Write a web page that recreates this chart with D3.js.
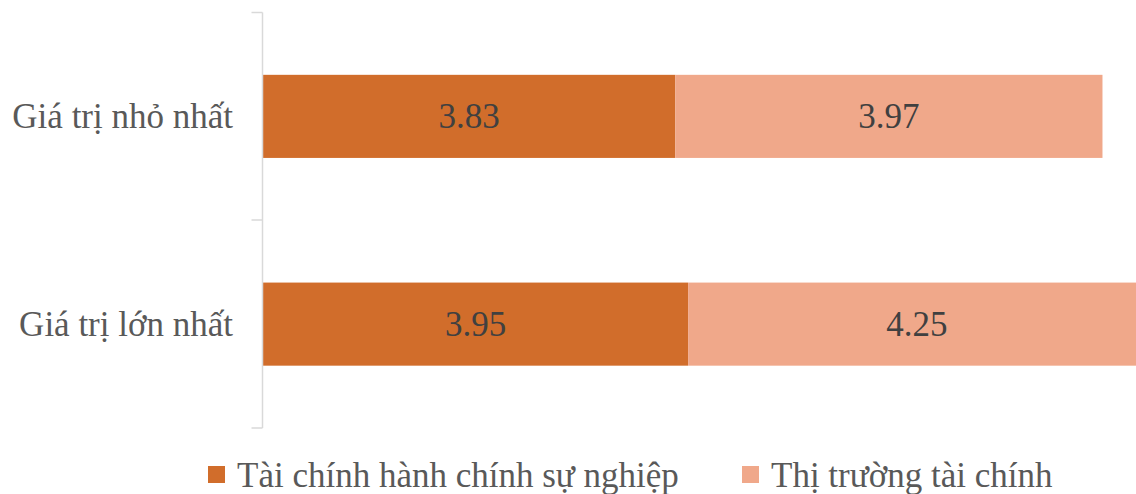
<!DOCTYPE html>
<html>
<head>
<meta charset="utf-8">
<script src="https://cdn.jsdelivr.net/npm/d3@7"></script>
<style>
  body { margin: 0; background: #fff; }
</style>
</head>
<body>
<div id="chart"></div>
<script>
// chart values
var categories = ["Giá trị nhỏ nhất", "Giá trị lớn nhất"];
var seriesNames = ["Tài chính hành chính sự nghiệp", "Thị trường tài chính"];
var taiChinhHCSN = [3.83, 3.95];
var thiTruongTC = [3.97, 4.25];
var colors = ["#D16D2B", "#F0A88A"];

var width = 1136, height = 494;
var fontSize = 35;
var fontFamily = "'Liberation Serif', 'Times New Roman', Times, serif";

var svg = d3.select("#chart").append("svg")
    .attr("width", width)
    .attr("height", height)
    .style("font-family", fontFamily);

// stack the two series per category
var rows = categories.map(function (c, i) {
    return { cat: c, a: taiChinhHCSN[i], b: thiTruongTC[i] };
});
var stacked = d3.stack().keys(["a", "b"])(rows);

var x = d3.scaleLinear()
    .domain([0, 8])
    .range([263, 263 + 861]);

var y = d3.scaleBand()
    .domain(categories)
    .range([12.5, 428])
    .paddingInner(0.6)
    .paddingOuter(0.3);

// bars
svg.selectAll("g.series")
    .data(stacked)
    .enter()
    .append("g")
    .attr("class", "series")
    .attr("fill", function (d, i) { return colors[i]; })
    .selectAll("rect")
    .data(function (d) { return d; })
    .enter()
    .append("rect")
    .attr("x", function (d) { return x(d[0]); })
    .attr("y", function (d) { return y(d.data.cat); })
    .attr("width", function (d) { return x(d[1]) - x(d[0]); })
    .attr("height", y.bandwidth());

// value labels
svg.selectAll("g.labels")
    .data(stacked)
    .enter()
    .append("g")
    .attr("class", "labels")
    .selectAll("text")
    .data(function (d) { return d; })
    .enter()
    .append("text")
    .attr("x", function (d) { return (x(d[0]) + x(d[1])) / 2; })
    .attr("y", function (d) { return y(d.data.cat) + y.bandwidth() / 2 + 12; })
    .attr("text-anchor", "middle")
    .attr("font-family", fontFamily)
    .attr("font-size", fontSize)
    .attr("fill", "#404040")
    .text(function (d) { return (d[1] - d[0]).toFixed(2); });

// category axis (line + ticks at band edges)
var axisX = x(0) - 0.5;
var edges = [12.5, 220, 428];
svg.append("line")
    .attr("x1", axisX).attr("x2", axisX)
    .attr("y1", edges[0]).attr("y2", edges[2])
    .attr("stroke", "#d9d9d9").attr("stroke-width", 1.5);
svg.selectAll("line.tick")
    .data(edges)
    .enter()
    .append("line")
    .attr("class", "tick")
    .attr("x1", axisX - 11).attr("x2", axisX)
    .attr("y1", function (d) { return d; })
    .attr("y2", function (d) { return d; })
    .attr("stroke", "#d9d9d9").attr("stroke-width", 1.5);

svg.selectAll("text.cat")
    .data(categories)
    .enter()
    .append("text")
    .attr("class", "cat")
    .attr("x", 233)
    .attr("y", function (d) { return y(d) + y.bandwidth() / 2 + 12; })
    .attr("text-anchor", "end")
    .attr("font-family", fontFamily)
    .attr("font-size", fontSize)
    .attr("fill", "#595959")
    .text(function (d) { return d; });

// legend
var legendX = [208, 742];
var legend = svg.selectAll("g.legend")
    .data(seriesNames)
    .enter()
    .append("g")
    .attr("class", "legend")
    .attr("transform", function (d, i) { return "translate(" + legendX[i] + ",466)"; });
legend.append("rect")
    .attr("width", 17).attr("height", 17)
    .attr("fill", function (d, i) { return colors[i]; });
legend.append("text")
    .attr("x", 29)
    .attr("y", 21)
    .attr("font-family", fontFamily)
    .attr("font-size", fontSize)
    .attr("fill", "#595959")
    .text(function (d) { return d; });
</script>
</body>
</html>
